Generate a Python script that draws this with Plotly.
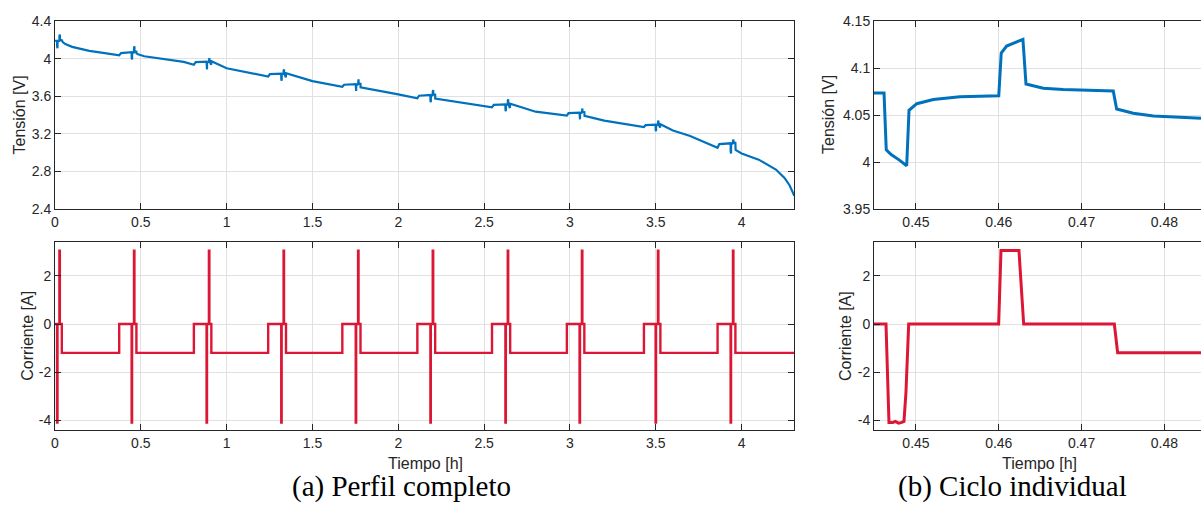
import plotly.graph_objects as go

# ---------------- DATA ----------------
# Full profile: smooth voltage trend between pulses (t [h], V)
trend_t = [0.000, 0.012,
           0.045, 0.060, 0.100, 0.150, 0.200, 0.300, 0.374,
           0.385, 0.4465,
           0.4745, 0.484, 0.520, 0.600, 0.700, 0.750, 0.809,
           0.820, 0.883,
           0.910, 1.000, 1.100, 1.242,
           1.252, 1.318,
           1.345, 1.500, 1.674,
           1.684, 1.752,
           1.780, 2.000, 2.111,
           2.121, 2.187,
           2.215, 2.400, 2.546,
           2.556, 2.624,
           2.650, 2.800, 2.982,
           2.992, 3.056,
           3.085, 3.200, 3.431,
           3.441, 3.499,
           3.525, 3.600, 3.700, 3.860,
           3.870, 3.936,
           3.965, 4.000, 4.100, 4.200, 4.250, 4.280, 4.307]
trend_v = [4.19, 4.19,
           4.175, 4.155, 4.125, 4.100, 4.083, 4.055, 4.035,
           4.058, 4.068,
           4.056, 4.046, 4.025, 4.005, 3.985, 3.965, 3.935,
           3.962, 3.967,
           3.935, 3.897, 3.860, 3.810,
           3.835, 3.840,
           3.800, 3.760, 3.700,
           3.722, 3.727,
           3.695, 3.620, 3.578,
           3.605, 3.613,
           3.574, 3.520, 3.482,
           3.508, 3.514,
           3.474, 3.435, 3.393,
           3.420, 3.425,
           3.390, 3.340, 3.272,
           3.293, 3.297,
           3.265, 3.235, 3.177, 3.052,
           3.090, 3.099,
           3.028, 2.990, 2.925, 2.820, 2.730, 2.650, 2.540]

# Pulse events of each cycle (start of the discharge pulse) and voltage extremes
pulse_t = [0.012, 0.4465, 0.883, 1.318, 1.752, 2.187, 2.624, 3.056, 3.499, 3.936]
pulse_rest_v = [4.19, 4.068, 3.967, 3.840, 3.727, 3.613, 3.514, 3.425, 3.297, 3.099]
pulse_dip_v = [4.11, 3.990, 3.885, 3.765, 3.655, 3.535, 3.440, 3.354, 3.226, 2.990]
pulse_up_v = [4.255, 4.130, 4.005, 3.885, 3.780, 3.666, 3.567, 3.470, 3.340, 3.140]
rest_start = [0.000, 0.374, 0.809, 1.242, 1.674, 2.111, 2.546, 2.982, 3.431, 3.860]
t_end_full = 4.307

# Pulse sequence (time after pulse start [h], current [A])
pulse_seq_dt = [0.0, 0.0025, 0.0136, 0.0163, 0.0278]
pulse_seq_i = [-4.1, 0.0, 3.05, 0.0, -1.2]
rest_i = 0.0
discharge_i = -1.2

# Single cycle (zoom) voltage
zoom_t_v = [0.44493, 0.44614, 0.44641, 0.44700, 0.44800, 0.44888, 0.44916, 0.45010,
            0.45210, 0.45530, 0.46000, 0.46014, 0.46030, 0.46095, 0.46200, 0.46292,
            0.46329, 0.46538, 0.46779, 0.47383, 0.47424, 0.47625, 0.47867, 0.48229, 0.48443]
zoom_v = [4.0735, 4.0735, 4.0130, 4.0080, 4.0020, 3.9960, 4.0550, 4.0620,
          4.0665, 4.0695, 4.0705, 4.1000, 4.1160, 4.1234, 4.1270, 4.1305,
          4.0830, 4.0784, 4.0770, 4.0755, 4.0564, 4.0518, 4.0490, 4.0471, 4.0465]

# Single cycle (zoom) current
zoom_t_i = [0.44493, 0.44638, 0.44674, 0.44720, 0.44750, 0.44790, 0.44820, 0.44855,
            0.44879, 0.44912, 0.45999, 0.46027, 0.46244, 0.46301, 0.47396, 0.47436, 0.48443]
zoom_i = [0.0, 0.0, -4.10, -4.10, -4.05, -4.12, -4.10, -4.05,
          -2.85, 0.0, 0.0, 3.06, 3.06, 0.0, 0.0, -1.19, -1.19]

# Tick labels
x_full_ticks = [0, 0.5, 1, 1.5, 2, 2.5, 3, 3.5, 4]
x_full_text = ["0", "0.5", "1", "1.5", "2", "2.5", "3", "3.5", "4"]
x_zoom_ticks = [0.45, 0.46, 0.47, 0.48]
x_zoom_text = ["0.45", "0.46", "0.47", "0.48"]
v_full_ticks = [2.4, 2.8, 3.2, 3.6, 4.0, 4.4]
v_full_text = ["2.4", "2.8", "3.2", "3.6", "4", "4.4"]
v_zoom_ticks = [3.95, 4.0, 4.05, 4.1, 4.15]
v_zoom_text = ["3.95", "4", "4.05", "4.1", "4.15"]
i_ticks = [-4, -2, 0, 2]
i_text = ["-4", "-2", "0", "2"]

# ---------------- Build full-profile series from the data ----------------
pts = list(zip(trend_t, trend_v))
for p, vr, vd, vu in zip(pulse_t, pulse_rest_v, pulse_dip_v, pulse_up_v):
    d = pulse_seq_dt
    pts += [(p + 0.0003, vd + 0.02), (p + d[1], vd), (p + d[1] + 0.0004, vr - 0.01),
            (p + d[2], vr), (p + d[2] + 0.0003, vu - 0.015), (p + d[3], vu),
            (p + d[3] + 0.0004, vr + 0.01), (p + d[4], vr + 0.005)]
pts.sort(key=lambda a: a[0])
full_t_v = [a[0] for a in pts]
full_v = [a[1] for a in pts]

full_t_i, full_i = [], []
for r, p in zip(rest_start, pulse_t):
    full_t_i.append(r); full_i.append(rest_i)
    for dt, cur in zip(pulse_seq_dt, pulse_seq_i):
        full_t_i.append(p + dt); full_i.append(cur)
full_t_i.append(t_end_full); full_i.append(discharge_i)

# ---------------- Figure ----------------
W, H = 1201, 518
BLUE = "#0072BD"
RED = "#DC1735"
AX = "#262626"
GRID = "#e1e1e1"
FONT = "Liberation Sans"

def px_x(x):
    return x / W

def px_y(y):
    return (H - y) / H

fig = go.Figure()
fig.add_trace(go.Scatter(x=full_t_v, y=full_v, mode="lines", line=dict(color=BLUE, width=2.2),
                         xaxis="x", yaxis="y", showlegend=False))
fig.add_trace(go.Scatter(x=full_t_i, y=full_i, mode="lines", line=dict(color=RED, width=2.4, shape="hv"),
                         xaxis="x2", yaxis="y2", showlegend=False))
fig.add_trace(go.Scatter(x=zoom_t_v, y=zoom_v, mode="lines", line=dict(color=BLUE, width=3),
                         xaxis="x3", yaxis="y3", showlegend=False))
fig.add_trace(go.Scatter(x=zoom_t_i, y=zoom_i, mode="lines", line=dict(color=RED, width=3),
                         xaxis="x4", yaxis="y4", showlegend=False))

common = dict(showline=True, linecolor=AX, linewidth=1, ticks="inside", ticklen=6,
              tickcolor=AX, tickwidth=1, showgrid=True, gridcolor=GRID, gridwidth=1,
              zeroline=False, tickfont=dict(family=FONT, size=14, color=AX),
              automargin=False, fixedrange=True)

L_dom = [px_x(55), px_x(794.3)]
R_dom = [px_x(874), 1.0]
T_dom = [px_y(209), px_y(21)]
B_dom = [px_y(430.3), px_y(242.3)]

fig.update_layout(
    width=W, height=H, margin=dict(l=0, r=0, t=0, b=0),
    paper_bgcolor="white", plot_bgcolor="white",
    xaxis=dict(domain=L_dom, anchor="y", range=[0, t_end_full], tickvals=x_full_ticks,
               ticktext=x_full_text, mirror="ticks", **common),
    yaxis=dict(domain=T_dom, anchor="x", range=[2.4, 4.4], tickvals=v_full_ticks,
               ticktext=v_full_text, mirror="ticks", **common),
    xaxis2=dict(domain=L_dom, anchor="y2", range=[0, t_end_full], tickvals=x_full_ticks,
                ticktext=x_full_text, mirror="ticks", **common),
    yaxis2=dict(domain=B_dom, anchor="x2", range=[-4.42, 3.4], tickvals=i_ticks,
                ticktext=i_text, mirror="ticks", **common),
    xaxis3=dict(domain=R_dom, anchor="y3", range=[0.44493, 0.48443], tickvals=x_zoom_ticks,
                ticktext=x_zoom_text, mirror="ticks", **common),
    yaxis3=dict(domain=T_dom, anchor="x3", range=[3.95, 4.15], tickvals=v_zoom_ticks,
                ticktext=v_zoom_text, mirror=False, **common),
    xaxis4=dict(domain=R_dom, anchor="y4", range=[0.44493, 0.48443], tickvals=x_zoom_ticks,
                ticktext=x_zoom_text, mirror="ticks", **common),
    yaxis4=dict(domain=B_dom, anchor="x4", range=[-4.42, 3.4], tickvals=i_ticks,
                ticktext=i_text, mirror=False, **common),
)

def ann(text, x, y, size=16, family=FONT, angle=0, color=AX):
    fig.add_annotation(text=text, x=px_x(x), y=px_y(y), xref="paper", yref="paper",
                       showarrow=False, textangle=angle, xanchor="center", yanchor="middle",
                       font=dict(family=family, size=size, color=color))

ann("Tensión [V]", 18.5, 115, angle=-90)
ann("Corriente [A]", 26.7, 336, angle=-90)
ann("Tensión [V]", 828, 115, angle=-90)
ann("Corriente [A]", 845, 336, angle=-90)
ann("Tiempo [h]", 425, 463)
ann("Tiempo [h]", 1039, 463)
ann("(a) Perfil completo", 401.5, 486, size=29, family="Liberation Serif", color="black")
ann("(b) Ciclo individual", 1012, 486, size=29, family="Liberation Serif", color="black")

fig.write_html("out.html", config=dict(displayModeBar=False))
